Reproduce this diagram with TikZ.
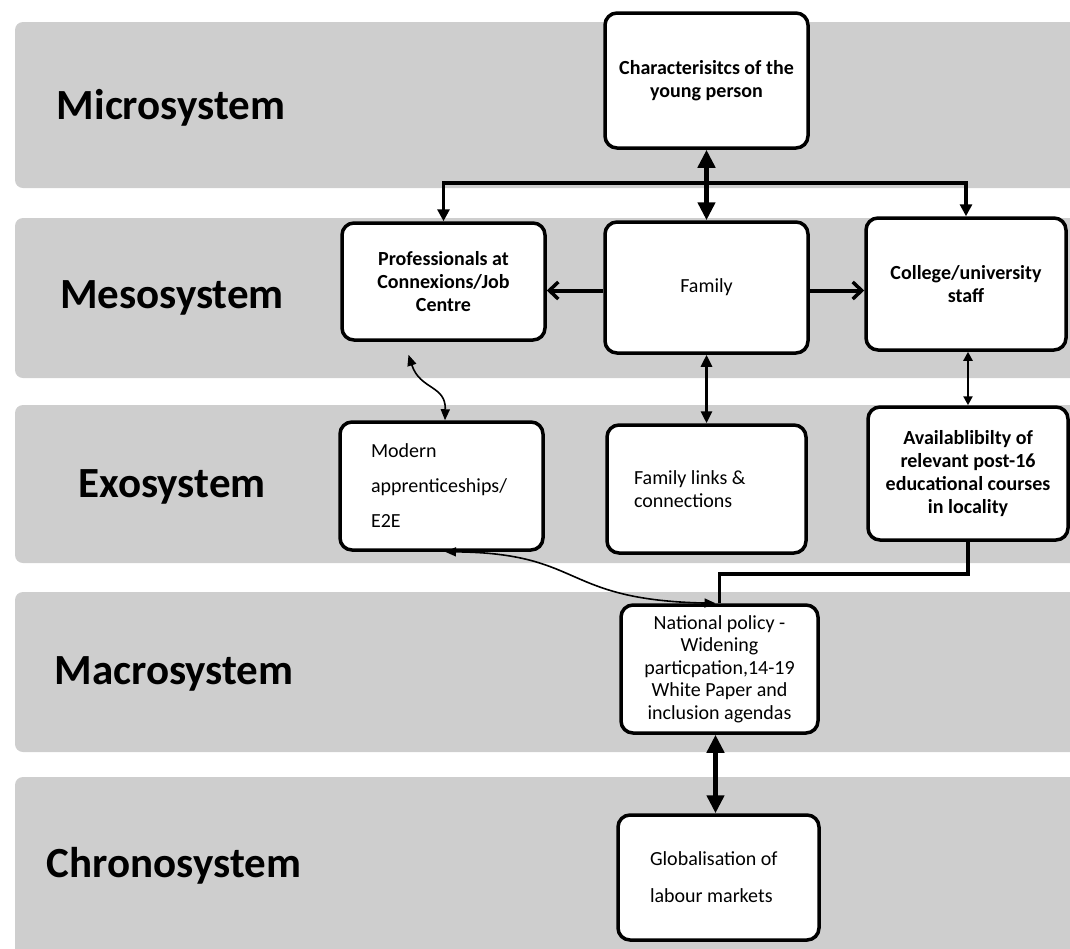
\documentclass[tikz,border=0pt]{standalone}
\usepackage{fontspec}
\setmainfont{Carlito}
\usetikzlibrary{arrows.meta}
\definecolor{bandgrey}{RGB}{206,206,206}
\newcommand{\flushtext}{\rightskip=0pt plus 1fil\spaceskip=0.226em\relax}
\tikzset{
  band/.style={fill=bandgrey, rounded corners=8pt},
  syslabel/.style={font=\bfseries\fontsize{43}{50}\selectfont, anchor=center, inner sep=0pt},
  box/.style={draw=black, line width=3.5pt, fill=white, rounded corners=12pt, inner sep=0pt},
  boldtxt/.style={font=\bfseries\fontsize{20}{23}\selectfont, align=center},
  plaintxt/.style={font=\fontsize{20}{22.5}\selectfont, align=center},
  heavy link/.style={line width=5pt, {Triangle[length=18pt,width=17pt]}-{Triangle[length=18pt,width=17pt]}},
  bus link/.style={line width=3.5pt, -{Triangle[length=12pt,width=12pt]}},
  side link/.style={line width=4pt, -{Straight Barb[length=9pt,width=17pt,line width=3.5pt]}},
  mid link/.style={line width=3pt, {Triangle[length=12pt,width=11pt]}-{Triangle[length=12pt,width=11pt]}},
  small link/.style={line width=2.5pt, {Triangle[length=9pt,width=9pt]}-{Triangle[length=9pt,width=9pt]}},
  elbow link/.style={line width=3.5pt},
  curve link/.style={line width=1.6pt, {Triangle[length=11pt,width=9pt]}-{Triangle[length=11pt,width=9pt]}},
}
\begin{document}
\begin{tikzpicture}[x=1pt,y=-1pt]
\useasboundingbox (0,0) rectangle (1070,948);

% system bands
\fill[band] (15,22)  rectangle (1095,188);
\fill[band] (15,218) rectangle (1095,378);
\fill[band] (15,405) rectangle (1095,563);
\fill[band] (15,592) rectangle (1095,752);
\fill[band] (15,777) rectangle (1095,975);

% band labels
\node[syslabel] (lmicro)  at (171,108) {Microsystem};
\node[syslabel] (lmeso)   at (172,298) {Mesosystem};
\node[syslabel] (lexo)    at (172,487) {Exosystem};
\node[syslabel] (lmacro)  at (174,674) {Macrosystem};
\node[syslabel] (lchrono) at (174,866) {Chronosystem};

% boxes
\node[box, boldtxt, minimum width=203pt, minimum height=135pt] (char) at (706.5,80.5)
  {Characterisitcs of the\\young person};
\node[box, boldtxt, minimum width=203pt, minimum height=117pt] (prof) at (443.5,281.5)
  {Professionals at\\Connexions/Job\\Centre};
\node[box, plaintxt, minimum width=203pt, minimum height=131pt] (family) at (706.5,287.5)
  {Family};
\node[box, boldtxt, minimum width=200pt, minimum height=132pt] (college) at (966,284)
  {College/university\\staff};
\node[box, font=\fontsize{20}{35}\selectfont, align=left, inner xsep=31pt, text width=141pt,
      minimum height=128pt] (modern) at (441.5,486)
  {\flushtext Modern\\apprenticeships/\\E2E};
\node[box, plaintxt, align=left, inner xsep=27pt, text width=145pt,
      minimum height=128pt] (links) at (706.5,489)
  {\flushtext Family links \&\\connections};
\node[box, boldtxt, minimum width=200pt, minimum height=133pt] (avail) at (968,473.5)
  {Availablibilty of\\relevant post-16\\educational courses\\in locality};
\node[box, plaintxt, minimum width=197pt, minimum height=128pt] (policy) at (719.5,669)
  {National policy -\\Widening\\particpation,14-19\\White Paper and\\inclusion agendas};
\node[box, font=\fontsize{20}{37}\selectfont, align=left, inner xsep=32pt, text width=137pt,
      minimum height=125pt] (global) at (718.5,877.5)
  {\flushtext Globalisation of\\labour markets};

% connectors
\coordinate (bus) at (706.5,183);
\draw[heavy link] (char.south) -- (family.north);
\draw[bus link] (bus) -| (prof.north);
\draw[bus link] (bus) -| (college.north);
\draw[side link] ([yshift=-3pt]family.west) -- ([yshift=-3pt]family.west -| prof.east);
\draw[side link] ([yshift=-3pt]family.east) -- ([yshift=-3pt]family.east -| college.west);
\draw[mid link] (family.south) -- (links.north);
\draw[small link] ([xshift=2pt]college.south) -- (avail.north);
\draw[elbow link] (avail.south) -- ++(0,32) -| (policy.north);
\draw[heavy link] ([xshift=-4pt]policy.south) -- ([xshift=-4pt]policy.south |- global.north);
\draw[curve link] ([xshift=-35pt,yshift=-13pt]prof.south)
  .. controls (420,390) and (446,385) .. ([xshift=3.5pt]modern.north);
\draw[curve link] ([xshift=3.5pt]modern.south)
  .. controls (585,553) and (560,600) .. ([xshift=-4pt]policy.north);
\end{tikzpicture}
\end{document}
